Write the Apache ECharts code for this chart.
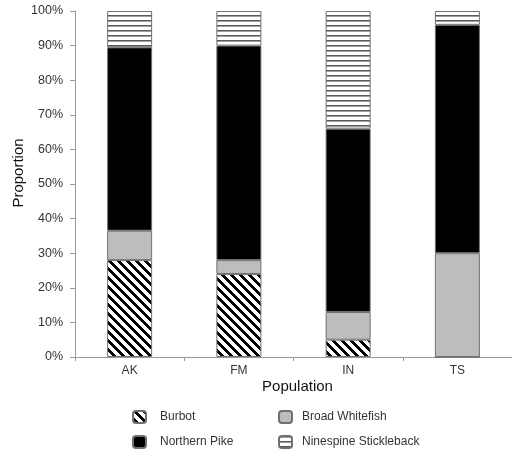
<!DOCTYPE html>
<html>
<head>
<meta charset="utf-8">
<script src="https://cdn.jsdelivr.net/npm/echarts@6/dist/echarts.min.js"></script>
<style>html,body{margin:0;padding:0;background:#fff;}#chart{width:512px;height:449px;}</style>
</head>
<body>
<div id="chart"></div>
<script>
const categories = ['AK', 'FM', 'IN', 'TS'];
const burbot = [28, 24, 5, 0];
const broadWhitefish = [8.5, 4, 8, 30];
const northernPike = [53, 62, 53, 66];
const ninespineStickleback = [10.5, 10, 34, 4];
const yTicks = [0, 10, 20, 30, 40, 50, 60, 70, 80, 90, 100];

function diagPattern() {
  const n = 9, w = 4;
  const c = document.createElement('canvas');
  c.width = n; c.height = n;
  const ctx = c.getContext('2d');
  ctx.fillStyle = '#fff'; ctx.fillRect(0, 0, n, n);
  ctx.fillStyle = '#000';
  for (let y = 0; y < n; y++) {
    for (let x = 0; x < n; x++) {
      if (((x - y) % n + n) % n < w) ctx.fillRect(x, y, 1, 1);
    }
  }
  return { image: c, repeat: 'repeat' };
}
function horizPattern() {
  const c = document.createElement('canvas');
  c.width = 4; c.height = 5;
  const ctx = c.getContext('2d');
  ctx.fillStyle = '#fff'; ctx.fillRect(0, 0, 4, 5);
  ctx.fillStyle = '#5a5a5a'; ctx.fillRect(0, 0, 4, 1);
  ctx.fillStyle = '#a0a0a0'; ctx.fillRect(0, 1, 4, 1);
  return { image: c, repeat: 'repeat' };
}

const chart = echarts.init(document.getElementById('chart'), null, { renderer: 'canvas' });
const border = { borderColor: '#707070', borderWidth: 1 };
function mk(name, data, color) {
  return {
    name: name, type: 'bar', stack: 'all', data: data, barWidth: 45,
    itemStyle: Object.assign({ color: color }, border),
    emphasis: { disabled: true }
  };
}
const font = 'Liberation Sans, Arial, sans-serif';
function leg(name, left, top, pad) {
  return {
    type: 'plain', left: left, top: top, orient: 'horizontal', padding: 0,
    itemWidth: 13, itemHeight: 12, data: [name], selectedMode: false,
    textStyle: { fontFamily: font, fontSize: 12, color: '#333', lineHeight: 12, padding: [0, 0, 0, pad] }
  };
}
chart.setOption({
  animation: false,
  backgroundColor: '#fff',
  grid: { left: 75, right: 0, top: 11, bottom: 92, containLabel: false, outerBoundsMode: 'none' },
  xAxis: {
    type: 'category', data: categories,
    name: 'Population', nameLocation: 'middle', nameGap: 22, nameMoveOverlap: false,
    nameTextStyle: { fontFamily: font, fontSize: 15, color: '#111', padding: [0, 0, 0, 8] },
    axisLine: { lineStyle: { color: '#999', width: 1 } },
    axisTick: { show: true, alignWithLabel: false, length: 4, lineStyle: { color: '#999' } },
    axisLabel: { fontFamily: font, fontSize: 12, color: '#333', margin: 8 }
  },
  yAxis: {
    type: 'value', min: 0, max: 100, interval: 10,
    name: 'Proportion', nameLocation: 'middle', nameGap: 49, nameMoveOverlap: false,
    nameTextStyle: { fontFamily: font, fontSize: 15, color: '#111', padding: [0, 0, 0, 22] },
    axisLine: { show: true, lineStyle: { color: '#999', width: 1 } },
    axisTick: { show: true, length: 5, lineStyle: { color: '#999' } },
    splitLine: { show: false },
    axisLabel: { fontFamily: font, fontSize: 12.5, color: '#333', margin: 12,
      formatter: function (v) { return yTicks.indexOf(v) >= 0 ? v + '%' : ''; } }
  },
  legend: [
    leg('Burbot', 132, 410, 9),
    leg('Northern Pike', 132, 435, 9),
    leg('Broad Whitefish', 278, 410, 5),
    leg('Ninespine Stickleback', 278, 435, 5)
  ],
  series: [
    mk('Burbot', burbot, diagPattern()),
    mk('Broad Whitefish', broadWhitefish, '#bdbdbd'),
    mk('Northern Pike', northernPike, '#000'),
    mk('Ninespine Stickleback', ninespineStickleback, horizPattern())
  ]
});
</script>
</body>
</html>
